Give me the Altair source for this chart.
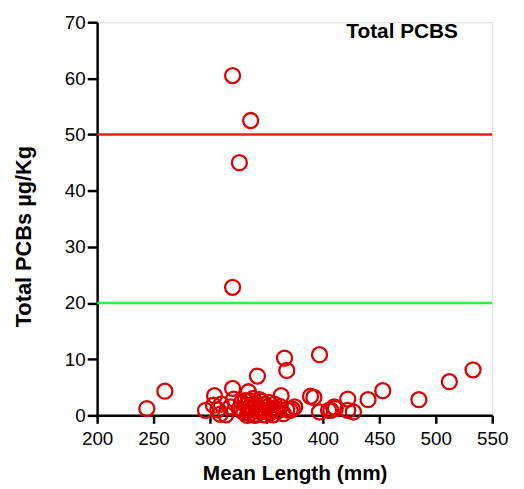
import altair as alt
import pandas as pd

length_mm = [
    320, 336, 326, 320,
    366, 397, 368, 342, 533, 512, 453, 485, 440, 422, 389, 320, 304, 363, 334, 335, 260, 244,
    296, 309, 303, 314, 321, 310, 307, 318, 326, 330, 332, 335, 337, 339, 341, 343, 345, 347,
    349, 351, 353, 355, 357, 360, 362, 365, 368, 371, 373, 392, 397, 405, 410, 407, 411, 422,
    427, 375, 338, 346, 328, 333, 340, 356,
    328, 331, 336, 344, 348, 352, 354, 358, 334, 342,
]
total_pcbs = [
    60.5, 52.5, 45.0, 22.8,
    10.2, 10.8, 8.0, 7.0, 8.1, 6.0, 4.4, 2.8, 2.8, 2.9, 3.4, 4.8, 3.5, 3.5, 4.2, 2.6, 4.3, 1.2,
    0.9, 0.2, 1.8, 0.1, 2.9, 2.0, 1.0, 1.5, 1.2, 0.5, 1.8, 0.3, 1.0, 2.1, 0.2, 1.4, 0.6, 1.9,
    0.9, 1.5, 0.4, 1.1, 2.0, 0.8, 1.6, 0.3, 1.0, 0.9, 1.1, 3.2, 0.6, 0.9, 1.5, 0.9, 1.2, 0.9,
    0.6, 1.5, 3.0, 2.5, 2.3, 0.0, 0.0, 0.1,
    0.8, 2.6, 1.6, 2.8, 0.1, 2.3, 0.8, 1.3, 1.3, 1.0,
]
thresholds = [50, 20]
threshold_colors = ["#ff1a1a", "#33ee33"]

df = pd.DataFrame({"length": length_mm, "pcbs": total_pcbs})
th = pd.DataFrame({"y": thresholds, "c": threshold_colors})

FONT = "Liberation Sans"

xs = alt.Scale(domain=[200, 550], nice=False, zero=False)
ys = alt.Scale(domain=[0, 70], nice=False)

x_axis = alt.Axis(
    values=[200, 250, 300, 350, 400, 450, 500, 550],
    grid=False, domainColor="black", domainWidth=2.5, tickColor="black", tickWidth=2.5,
    tickSize=8, labelFontSize=19, labelColor="black", labelFont=FONT, labelPadding=6,
    title="Mean Length (mm)", titleFontSize=21, titleFont=FONT, titleFontWeight="bold",
    titleColor="black", titleBaseline="alphabetic", titleY=65, labelFlush=False,
)
y_axis = alt.Axis(
    values=[0, 10, 20, 30, 40, 50, 60, 70],
    grid=False, domainColor="black", domainWidth=2.5, tickColor="black", tickWidth=2.5,
    tickSize=10, labelFontSize=19, labelColor="black", labelFont=FONT, labelPadding=2,
    title="Total PCBs µg/Kg", titleFontSize=22, titleFont=FONT, titleFontWeight="bold",
    titleColor="black", titleBaseline="alphabetic", titleX=-67, titleY=216, labelFlush=False,
)

rules = alt.Chart(th).mark_rule(strokeWidth=2.5).encode(
    y=alt.Y("y:Q", scale=ys, axis=y_axis),
    color=alt.Color("c:N", scale=None),
)

points = alt.Chart(df).mark_point(
    shape="circle", filled=False, size=230, strokeWidth=2.3, color="#dd0000", opacity=1
).encode(
    x=alt.X("length:Q", scale=xs, axis=x_axis),
    y=alt.Y("pcbs:Q", scale=ys, axis=y_axis),
)

title = alt.Chart(pd.DataFrame({"t": ["Total PCBS"]})).mark_text(
    font=FONT, fontSize=21, fontWeight="bold", color="black", align="center", baseline="alphabetic"
).encode(text="t:N", x=alt.value(308), y=alt.value(16))

chart = alt.layer(rules, points, title).properties(
    width=399, height=397,
    autosize=alt.AutoSizeParams(type="none"),
    padding={"left": 90, "top": 12, "right": 24, "bottom": 72},
).configure_view(stroke=None).configure(background="white")

chart.save("out.html", embed_options={"renderer": "svg", "actions": False})
